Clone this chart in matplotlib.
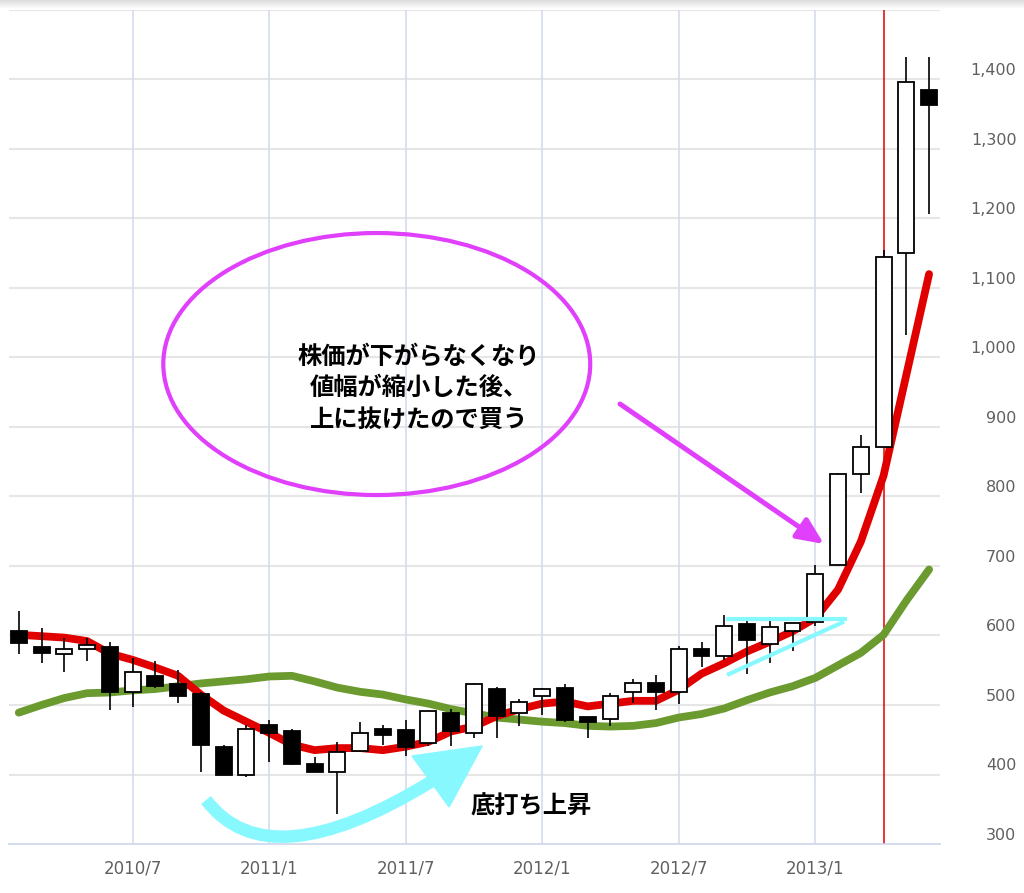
import numpy as np
import matplotlib
matplotlib.use('Agg')
import matplotlib.pyplot as plt
from matplotlib.patches import Ellipse, PathPatch, Polygon, FancyArrowPatch
from matplotlib.path import Path
from matplotlib.transforms import ScaledTranslation

plt.rcParams['font.family'] = ['Noto Sans CJK JP', 'DejaVu Sans']

# ---------------- data ----------------
months = ['2010/2', '2010/3', '2010/4', '2010/5', '2010/6', '2010/7', '2010/8', '2010/9',
          '2010/10', '2010/11', '2010/12', '2011/1', '2011/2', '2011/3', '2011/4', '2011/5',
          '2011/6', '2011/7', '2011/8', '2011/9', '2011/10', '2011/11', '2011/12', '2012/1',
          '2012/2', '2012/3', '2012/4', '2012/5', '2012/6', '2012/7', '2012/8', '2012/9',
          '2012/10', '2012/11', '2012/12', '2013/1', '2013/2', '2013/3', '2013/4', '2013/5',
          '2013/6']
open_ = [606, 583, 574, 580, 583, 518, 542, 530, 516, 440, 399, 471, 463, 415, 404, 434,
         466, 464, 446, 489, 460, 523, 488, 513, 525, 483, 480, 518, 532, 518, 581, 570,
         616, 588, 607, 620, 701, 832, 871, 1150, 1385]
high = [635, 611, 596, 597, 590, 567, 564, 550, 518, 443, 471, 479, 465, 425, 447, 475,
        471, 479, 492, 494, 532, 526, 508, 525, 530, 483, 517, 537, 543, 585, 590, 630,
        621, 621, 618, 702, 834, 888, 1154, 1432, 1432]
low = [574, 561, 548, 564, 493, 497, 525, 503, 403, 399, 397, 418, 413, 403, 343, 434,
       443, 427, 441, 441, 452, 452, 470, 486, 475, 452, 470, 503, 493, 502, 555, 565,
       544, 561, 577, 613, 700, 805, 871, 1033, 1207]
close = [589, 575, 581, 587, 519, 547, 528, 513, 442, 399, 466, 460, 415, 404, 433, 460,
         457, 440, 492, 462, 530, 484, 505, 523, 478, 475, 513, 532, 518, 580, 570, 614,
         594, 612, 618, 688, 832, 871, 1145, 1396, 1364]
ma_short = [601, 599, 597, 592, 574, 565, 554, 542, 515, 492, 476, 460, 443, 435, 438, 438,
            435, 440, 447, 462, 469, 484, 494, 502, 505, 498, 502, 506, 506, 522, 545, 560,
            577, 591, 606, 625, 666, 735, 830, 975, 1120]
ma_long = [489, 500, 510, 517, 518, 521, 523, 527, 531, 534, 537, 541, 542, 534, 525, 519,
           515, 508, 502, 494, 488, 482, 479, 476, 474, 470, 469, 470, 474, 482, 487, 495,
           507, 518, 527, 539, 557, 575, 601, 650, 695]
xtick_labels = ['2010/7', '2011/1', '2011/7', '2012/1', '2012/7', '2013/1']
ytick_values = [300, 400, 500, 600, 700, 800, 900, 1000, 1100, 1200, 1300, 1400, 1500]
signal_month = '2013/4'
note_lines = ['株価が下がらなくなり', '値幅が縮小した後、', '上に抜けたので買う']
bottom_note = '底打ち上昇'

# ---------------- figure ----------------
W, H = 1024, 893
fig = plt.figure(figsize=(W / 100, H / 100), dpi=100)
fig.patch.set_facecolor('white')

# top grey gradient band
gax = fig.add_axes([0, 1 - 9 / H, 1, 9 / H])
grad = np.linspace(0.86, 1.0, 50).reshape(-1, 1)
gax.imshow(np.dstack([grad, grad, grad]), aspect='auto', extent=[0, 1, 0, 1])
gax.axis('off')

ax = fig.add_axes([9 / W, 49 / H, 931 / W, 834 / H])
x = np.arange(len(months))
o = np.array(open_, float)
h = np.array(high, float)
l = np.array(low, float)
c = np.array(close, float)

ax.set_xlim(-0.43, 40.48)
ax.set_ylim(300, 1500)

for s in ['top', 'left', 'right']:
    ax.spines[s].set_visible(False)
ax.spines['bottom'].set_color('#ccd6eb')
ax.spines['bottom'].set_linewidth(1.2)

# grid
for v in ytick_values[1:]:
    ax.axhline(v, color='#e6e6e6', lw=1.5, zorder=0)
xtick_pos = [months.index(m) for m in xtick_labels]
for xp in xtick_pos:
    ax.axvline(xp, color='#d5dbf0', lw=1.2, zorder=0)

# signal line
ax.axvline(months.index(signal_month), color='#e00000', lw=1.1, zorder=1)

# moving averages
ax.plot(x, ma_long, color='#6b9a2f', lw=5.6, solid_capstyle='round', zorder=2)
ax.plot(x, ma_short, color='#e00000', lw=5.6, solid_capstyle='round', zorder=2.1)

# candles
up = c >= o
ax.vlines(x, l, h, color='black', lw=1.2, zorder=3)
bottoms = np.minimum(o, c)
heights = np.maximum(np.abs(c - o), 1.5)
ax.bar(x, heights, bottom=bottoms, width=0.7,
       color=np.where(up, 'white', 'black'), edgecolor='black', lw=1.3, zorder=4)

# ticks
ax.set_xticks(xtick_pos, xtick_labels)
ax.tick_params(axis='x', length=0, pad=11, labelsize=12, labelcolor='#606060')
for lbl in ax.get_xticklabels():
    lbl.set_family(['DejaVu Sans'])
ax.yaxis.tick_right()
ax.set_yticks(ytick_values, [f'{v:,}' if v < 1500 else '' for v in ytick_values])
ax.tick_params(axis='y', length=0, pad=55, labelsize=11.5, labelcolor='#606060')
for lbl in ax.get_yticklabels():
    lbl.set_ha('right')
    lbl.set_family(['DejaVu Sans'])
    lbl.set_transform(lbl.get_transform() + ScaledTranslation(0, 0.10, fig.dpi_scale_trans))

# ---------------- annotations ----------------
magenta = '#e040fb'
cyan = '#88f8ff'

ax.add_patch(Ellipse((15.73, 990.6), 18.76, 377, fill=False, ec=magenta, lw=3.0, zorder=6))
ax.text(12.23, 1001.2, note_lines[0], ha='left', va='center', fontsize=17.5,
        fontweight='bold', zorder=7)
ax.text(12.80, 956.1, note_lines[1], ha='left', va='center', fontsize=17.5,
        fontweight='bold', zorder=7)
ax.text(12.80, 910.1, note_lines[2], ha='left', va='center', fontsize=17.5,
        fontweight='bold', zorder=7)

ax.add_patch(FancyArrowPatch((26.42, 933.1), (35.38, 731.7),
                             arrowstyle='-|>,head_length=0.8,head_width=0.36',
                             mutation_scale=20, color=magenta, lw=3.6,
                             shrinkA=0, shrinkB=0, zorder=6))

# cyan triangle lines
ax.plot([31.08, 36.39], [624.2, 624.2], color=cyan, lw=3.0, zorder=6, solid_capstyle='butt')
ax.plot([31.12, 36.26], [543.2, 619.9], color=cyan, lw=3.0, zorder=6, solid_capstyle='butt')

# cyan curved arrow
curve = Path([(8.23, 363.3), (10.96, 245.3), (18.16, 390.6)],
             [Path.MOVETO, Path.CURVE3, Path.CURVE3])
ax.add_patch(PathPatch(curve, fill=False, ec=cyan, lw=9, capstyle='butt',
                       zorder=6, clip_on=False))
ax.add_patch(Polygon([(20.36, 441.0), (17.28, 426.6), (18.91, 353.2)], closed=True,
                     fc=cyan, ec=cyan, lw=1, zorder=6))
ax.text(19.83, 353.7, bottom_note, ha='left', va='center', fontsize=17.5,
        fontweight='bold', zorder=7)

fig.savefig('out.png', dpi=100, facecolor='white')
